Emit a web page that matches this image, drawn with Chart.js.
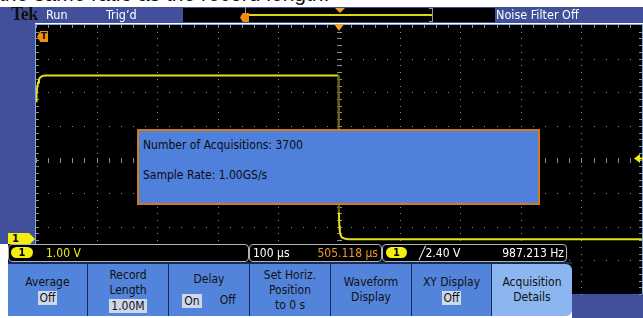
<!DOCTYPE html>
<html><head><meta charset="utf-8">
<script src="https://cdn.jsdelivr.net/npm/chart.js@4/dist/chart.umd.min.js"></script>
<style>
html,body{margin:0;padding:0;background:#fff;}
#scope{position:relative;width:643px;height:318px;overflow:hidden;background:#fff;font-family:"Liberation Sans Narrow","DejaVu Sans Condensed",sans-serif;}
.a{position:absolute;white-space:nowrap;}
#c{position:absolute;left:0;top:0;z-index:2;}
.bg{z-index:1;}
.ov{z-index:3;}
.hdr{color:#fff;font-size:12.5px;top:7px;line-height:16px;}
.pill{background:#f2ee10;color:#000;border-radius:6px;font-size:11px;font-weight:bold;text-align:center;line-height:11px;height:11px;}
.sbox{border:1px solid #aeb4bc;border-radius:4px;background:#000;height:16px;top:244px;}
.stx{font-size:12px;line-height:16px;top:245px;}
.btn{top:264px;height:52px;background:#5384dc;color:#111;font-size:12px;text-align:center;line-height:15px;display:flex;flex-direction:column;justify-content:center;align-items:center;box-sizing:border-box;border-right:1px solid #1b2850;}
.hl{background:#cfd8e8;padding:0 2px;line-height:14px;margin-top:1px;}
</style></head>
<body>
<div id="scope">
  <!-- partial caption strip at the very top -->
  <div class="a bg" style="left:0;top:0;width:643px;height:7px;overflow:hidden;">
    <div class="a" style="left:-1px;top:-18px;font-family:'Liberation Sans',Arial,sans-serif;font-size:21px;line-height:24px;color:#111;">the same ratio as the record length.</div>
  </div>
  <!-- bezel backgrounds -->
  <div class="a bg" style="left:0;top:7px;width:643px;height:16px;background:#42509b;"></div>
  <div class="a bg" style="left:0;top:7px;width:35px;height:237px;background:#42509b;"></div>
  <div class="a bg" style="left:572px;top:294px;width:71px;height:24px;background:#42509b;"></div>

  <canvas id="c" width="643" height="318"></canvas>

  <!-- header -->
  <div class="a ov" style="left:11px;top:6px;font-family:'Liberation Serif','DejaVu Serif',serif;font-weight:bold;font-size:18px;line-height:17px;color:#111;letter-spacing:-0.5px;">Tek</div>
  <div class="a ov hdr" style="left:46px;">Run</div>
  <div class="a ov hdr" style="left:106px;">Trig’d</div>
  <div class="a ov" style="left:183px;top:8px;width:312px;height:14px;background:#000;"></div>
  <div class="a ov" style="left:245px;top:14px;width:188px;height:2px;background:#d9d61c;"></div>
  <div class="a ov" style="left:245px;top:7px;width:1px;height:7px;background:#9a9a9a;"></div>
  <div class="a ov" style="left:432px;top:8px;width:1px;height:14px;background:#9a9a9a;"></div>
  <div class="a ov" style="left:429px;top:8px;width:4px;height:1px;background:#9a9a9a;"></div>
  <div class="a ov" style="left:429px;top:21px;width:4px;height:1px;background:#9a9a9a;"></div>
  <div class="a ov" style="left:335px;top:8px;width:10px;height:5px;background:#f0a020;clip-path:polygon(0 0,100% 0,50% 100%);"></div>
  <div class="a ov" style="left:240px;top:13px;width:9px;height:9px;background:#f08a10;clip-path:polygon(0 50%,30% 0,100% 0,100% 100%,30% 100%);"></div>
  <div class="a ov hdr" style="left:496px;">Noise Filter Off</div>

  <!-- trigger position marker -->
  <div class="a ov" style="left:37px;top:31px;width:11px;height:11px;background:#f0900f;clip-path:polygon(0 50%,30% 0,100% 0,100% 100%,30% 100%);color:#111;font:bold 9px/11px 'DejaVu Sans',sans-serif;text-align:right;padding-right:1px;box-sizing:border-box;">T</div>
  <!-- channel 1 ground marker (positioned from the scale) -->
  <div id="gnd" class="a ov" style="left:8px;top:232px;width:27px;height:12px;background:#f2ee10;clip-path:polygon(0 0,78% 0,100% 50%,78% 100%,0 100%);color:#111;font:bold 10px/12px 'DejaVu Sans',sans-serif;padding-left:4px;box-sizing:border-box;">1</div>

  <!-- acquisition details box -->
  <div class="a ov" style="left:137px;top:129px;width:403px;height:76px;background:#4f80dc;border:2px solid #d27a1e;box-sizing:border-box;"></div>
  <div class="a ov" style="left:143px;top:137px;font-size:12px;line-height:16px;color:#0c0c0c;">Number of Acquisitions: 3700</div>
  <div class="a ov" style="left:143px;top:167px;font-size:12px;line-height:16px;color:#0c0c0c;">Sample Rate: 1.00GS/s</div>

  <!-- status bar -->
  <div class="a ov" style="left:8px;top:244px;width:560px;height:19px;background:#000;"></div>
  <div class="a ov sbox" style="left:8px;width:239px;"></div>
  <div class="a ov sbox" style="left:249px;width:131px;"></div>
  <div class="a ov sbox" style="left:382px;width:183px;"></div>
  <div class="a ov pill" style="left:11px;top:247px;width:22px;">1</div>
  <div class="a ov stx" style="left:46px;color:#f0ec14;">1.00 V</div>
  <div class="a ov stx" style="left:253px;color:#fff;">100 µs</div>
  <div class="a ov stx" style="left:300px;width:78px;text-align:right;color:#eb9a22;">505.118 µs</div>
  <div class="a ov pill" style="left:386px;top:247px;width:21px;">1</div>
  <div class="a ov stx" style="left:419px;color:#fff;">╱2.40 V</div>
  <div class="a ov stx" style="left:480px;width:84px;text-align:right;color:#fff;">987.213 Hz</div>

  <!-- soft-key buttons -->
  <div class="a ov" style="left:8px;top:262px;width:564px;height:2px;background:#1b2850;"></div>
  <div class="a ov btn" style="left:8px;width:80px;"><div>Average</div><div class="hl">Off</div></div>
  <div class="a ov btn" style="left:88px;width:81px;"><div>Record</div><div>Length</div><div class="hl">1.00M</div></div>
  <div class="a ov btn" style="left:169px;width:81px;"><div style="margin-bottom:6px;">Delay</div><div style="display:flex;gap:18px;"><span class="hl">On</span><span>Off</span></div></div>
  <div class="a ov btn" style="left:250px;width:81px;"><div>Set Horiz.</div><div>Position</div><div>to 0 s</div></div>
  <div class="a ov btn" style="left:331px;width:81px;"><div>Waveform</div><div>Display</div></div>
  <div class="a ov btn" style="left:412px;width:80px;"><div>XY Display</div><div class="hl">Off</div></div>
  <div class="a ov btn" style="left:492px;width:80px;background:#8cb6f0;border-right:none;border-radius:0 6px 6px 0;"><div>Acquisition</div><div>Details</div></div>
</div>

<script>
// ---- data (time in µs after trigger, volts) ----
const timeUs   = [5.118, 6.0, 7.0, 8.5, 10, 12, 15, 20, 60, 300, 504.2, 504.6, 505.0, 505.6, 506.5, 508, 510, 514, 520, 700, 1005.118];
const ch1Volts = [4.10, 4.32, 4.50, 4.66, 4.75, 4.81, 4.85, 4.87, 4.87, 4.87, 4.87, 2.60, 0.80, 0.40, 0.22, 0.11, 0.05, 0.02, 0.00, 0.00, 0.00];
// graticule divisions (100 µs/div, 1.00 V/div)
const gridTimesUs = [5.118, 105.118, 205.118, 305.118, 405.118, 505.118, 605.118, 705.118, 805.118, 905.118, 1005.118];
const gridVolts   = [-1.63, -0.63, 0.37, 1.37, 2.37, 3.37, 4.37, 5.37, 6.37];
const triggerLevelV = 2.40;
const groundV = 0;

const graticule = {
  id: 'graticule',
  beforeDatasetsDraw(chart) {
    const {ctx, chartArea: a, scales: {x, y}} = chart;
    ctx.save();
    ctx.fillStyle = '#000';
    ctx.fillRect(a.left, a.top, a.right - a.left, a.bottom - a.top);
    ctx.fillStyle = '#86a9d6';
    ctx.fillRect(a.left - 1, a.top - 1, a.right - a.left + 2, 1);
    ctx.fillRect(a.left - 1, a.top - 1, 1, a.bottom - a.top + 1);
    ctx.fillRect(a.right, a.top - 1, 1, a.bottom - a.top + 1);
    const xs = gridTimesUs, ys = gridVolts, xMinor = [], yMinor = [];
    for (let i = 0; i < xs.length - 1; i++) for (let k = 0; k < 5; k++) xMinor.push(Math.round(x.getPixelForValue(xs[i] + (xs[i+1]-xs[i]) * k / 5)));
    for (let i = 0; i < ys.length - 1; i++) for (let k = 0; k < 5; k++) yMinor.push(Math.round(y.getPixelForValue(ys[i] + (ys[i+1]-ys[i]) * k / 5)));
    ctx.fillStyle = '#8e8e8e';
    xs.slice(1, -1).forEach(v => { const px = Math.round(x.getPixelForValue(v)); yMinor.forEach(py => ctx.fillRect(px, py, 1, 1)); });
    ys.slice(1, -1).forEach(v => { const py = Math.round(y.getPixelForValue(v)); xMinor.forEach(px => ctx.fillRect(px, py, 1, 1)); });
    const cx = Math.round(x.getPixelForValue(xs[5])), cy = Math.round(y.getPixelForValue(ys[4]));
    yMinor.forEach(py => ctx.fillRect(cx - 2, py, 5, 1));
    xMinor.forEach(px => ctx.fillRect(px, cy - 2, 1, 5));
    xMinor.forEach(px => ctx.fillRect(px, a.top, 1, 3));
    yMinor.forEach(py => { ctx.fillRect(a.left, py, 3, 1); ctx.fillRect(a.right - 3, py, 3, 1); });
    ctx.restore();
  },
  afterDraw(chart) {
    const {ctx, chartArea: a, scales: {x, y}} = chart;
    ctx.save();
    const cx = x.getPixelForValue(gridTimesUs[5]);
    ctx.fillStyle = '#f2a422';
    ctx.beginPath(); ctx.moveTo(cx - 5, a.top - 1); ctx.lineTo(cx + 5, a.top - 1); ctx.lineTo(cx, a.top + 6); ctx.closePath(); ctx.fill();
    const ty = y.getPixelForValue(triggerLevelV);
    ctx.fillStyle = '#f0ec14';
    ctx.beginPath(); ctx.moveTo(a.right - 8, ty); ctx.lineTo(a.right - 2, ty - 4.5); ctx.lineTo(a.right - 2, ty + 4.5); ctx.closePath(); ctx.fill();
    ctx.fillRect(a.right - 3, ty - 1, 4, 2);
    ctx.restore();
  }
};

const pts = timeUs.map((t, i) => ({x: t, y: ch1Volts[i]}));
const chart = new Chart(document.getElementById('c'), {
  type: 'line',
  data: {datasets: [{
    data: pts, borderColor: '#e3e01e', borderWidth: 2, pointRadius: 0, tension: 0,
    segment: {borderColor: c => {
      const dv = Math.abs(c.p1.parsed.y - c.p0.parsed.y), dt = Math.abs(c.p1.parsed.x - c.p0.parsed.x);
      return dv / dt > 1.0 ? '#6e6c18' : '#e3e01e';
    }}
  }]},
  options: {
    responsive: false, animation: false, devicePixelRatio: 1, events: [],
    layout: {padding: {left: 36, top: 25, right: 1, bottom: 24}},
    plugins: {legend: {display: false}, tooltip: {enabled: false}},
    scales: {
      x: {type: 'linear', display: false, min: gridTimesUs[0], max: gridTimesUs[gridTimesUs.length - 1]},
      y: {type: 'linear', display: false, min: gridVolts[0], max: gridVolts[gridVolts.length - 1]}
    }
  },
  plugins: [graticule]
});
const gy = chart.scales.y.getPixelForValue(groundV);
document.getElementById('gnd').style.top = Math.round(gy - 6) + 'px';
</script>
</body></html>
